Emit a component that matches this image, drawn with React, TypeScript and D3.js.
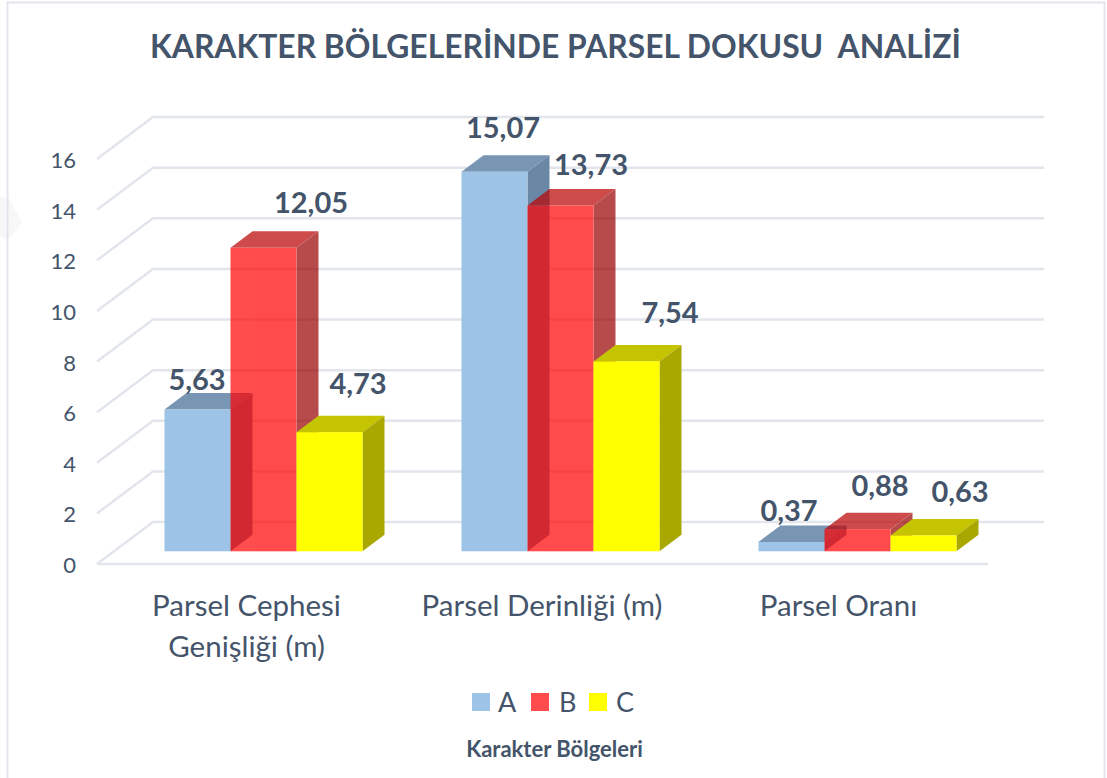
import React from "react";
import * as d3 from "d3";

const title = "KARAKTER BÖLGELERİNDE PARSEL DOKUSU  ANALİZİ";
const axisTitle = "Karakter Bölgeleri";
const categories = ["Parsel Cephesi Genişliği (m)", "Parsel Derinliği (m)", "Parsel Oranı"];
const categoryLines = [["Parsel Cephesi", "Genişliği (m)"], ["Parsel Derinliği (m)"], ["Parsel Oranı"]];
const seriesNames = ["A", "B", "C"];
const seriesA = [5.63, 15.07, 0.37];
const seriesB = [12.05, 13.73, 0.88];
const seriesC = [4.73, 7.54, 0.63];
const ticks = [0, 2, 4, 6, 8, 10, 12, 14, 16];

const W = 1107, H = 778;
const INK = "#44546A";
const GRID = "#E2E5EC";
const FONT = "Lato, Carlito, sans-serif";
const DEPTH = { wx: 56, wy: 42, bx: 22, by: 16.5 };

const faces = [
  { front: "#9DC3E6", top: "#7895B3", side: "#6A87A6", op: 1 },
  { front: "#FF0000", top: "#BA0000", side: "#990000", op: 0.7 },
  { front: "#FFFF00", top: "#C4C400", side: "#A8A800", op: 1 },
];

const labelPos = [
  [[197, 390], [311, 212.5], [358, 394]],
  [[503, 138], [591, 175], [670, 323]],
  [[789, 521], [880, 496], [960, 502]],
];

export default function App() {
  const y = d3.scaleLinear().domain([0, 16]).range([522, 117]);
  const bh = d3.scaleLinear().domain([0, 16]).range([0, 403]);
  const x = d3.scaleBand<string>().domain(categories).range([115, 1006]);
  const baseY = 551.3;
  const sub = d3.scaleBand<string>().domain(seriesNames).range([0, 198]);
  const groupOffset = (x.bandwidth() - 198) / 2;
  const series = [seriesA, seriesB, seriesC];

  return (
    <svg width={W} height={H} style={{ position: "absolute", left: 0, top: 0, background: "#fff" }} fontFamily={FONT}>
      <path d="M0,196L8,198L22,222L8,240L0,236Z" fill="#F7F7F7" />
      <path d={`M7.5,${H}V2.5H1104.5V${H}`} fill="none" stroke={GRID} strokeWidth={2} />
      <text x={555.5} y={58} textAnchor="middle" fontSize={33} fontWeight={700} fill={INK} textLength={811} lengthAdjust="spacingAndGlyphs" style={{ whiteSpace: "pre" }}>{title}</text>

      {ticks.map((t) => (
        <g key={t}>
          <path d={`M${97},${y(t) + DEPTH.wy}L${153},${y(t)}H1044`} fill="none" stroke={GRID} strokeWidth={2.5} />
          <text x={76} y={y(t) + DEPTH.wy + 9} textAnchor="end" fontSize={22} fill={INK}>{t}</text>
        </g>
      ))}
      <path d={`M97,${y(0) + DEPTH.wy}H988`} stroke={GRID} strokeWidth={2.5} fill="none" />

      {categories.map((c, ci) => {
        const g0 = x(c)! + groupOffset;
        return (
          <g key={c}>
            {seriesNames.map((s, si) => {
              const v = series[si][ci];
              const f = faces[si];
              const x0 = g0 + sub(s)!;
              const x1 = x0 + sub.bandwidth();
              const top = baseY - bh(v);
              const { bx, by } = DEPTH;
              return (
                <g key={s} opacity={f.op}>
                  <path d={`M${x0},${top}L${x0 + bx},${top - by}H${x1 + bx}L${x1},${top}Z`} fill={f.top} />
                  <path d={`M${x1},${top}L${x1 + bx},${top - by}V${baseY - by}L${x1},${baseY}Z`} fill={f.side} />
                  <rect x={x0} y={top} width={x1 - x0} height={baseY - top} fill={f.front} />
                </g>
              );
            })}
          </g>
        );
      })}

      {categories.map((c, ci) =>
        seriesNames.map((s, si) => (
          <text key={c + s} x={labelPos[ci][si][0]} y={labelPos[ci][si][1]} textAnchor="middle" fontSize={29} fontWeight={700} fill={INK}>
            {series[si][ci].toFixed(2).replace(".", ",")}
          </text>
        ))
      )}

      {categories.map((c, ci) =>
        categoryLines[ci].map((line, li) => (
          <text key={line} x={[246.5, 542, 838.5][ci]} y={616 + li * 41} textAnchor="middle" fontSize={29.5} fill={INK}>{line}</text>
        ))
      )}

      {seriesNames.map((s, si) => (
        <g key={s}>
          <rect x={[472, 531, 589][si]} y={693} width={18} height={18} fill={faces[si].op < 1 ? "#FF4B4B" : faces[si].front} />
          <text x={[498, 559, 616][si]} y={712} fontSize={27} fill={INK}>{s}</text>
        </g>
      ))}
      <text x={554.5} y={757} textAnchor="middle" fontSize={22} fontWeight={700} fill={INK}>{axisTitle}</text>
    </svg>
  );
}
